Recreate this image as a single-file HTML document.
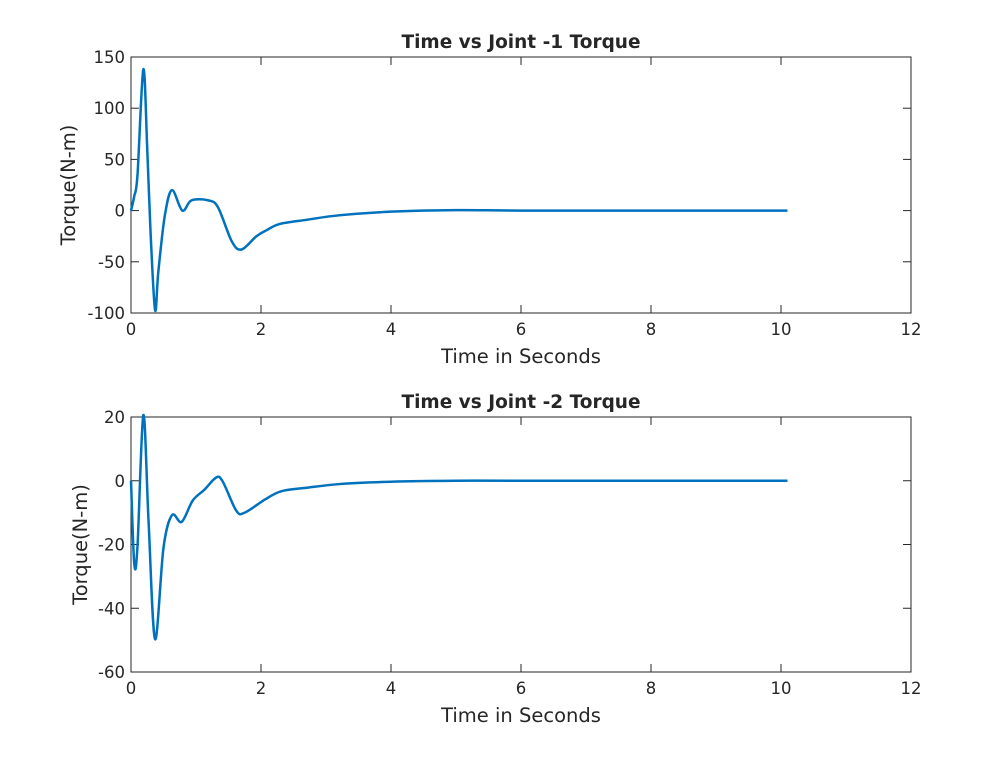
<!DOCTYPE html>
<html><head><meta charset="utf-8"><style>
html,body{margin:0;padding:0;background:#fff;}
svg text{font-family:"DejaVu Sans","Liberation Sans",sans-serif;fill:#262626;}
</style></head><body>
<svg id="chart" width="1008" height="756" xmlns="http://www.w3.org/2000/svg"></svg>
<script>
const xTicks=[0,2,4,6,8,10,12];
const t1=[0,0.05,0.1,0.19,0.25,0.3,0.37,0.42,0.52,0.63,0.79,0.93,1.19,1.34,1.55,1.7,1.93,2.09,2.29,2.7,3.2,4,5,6,8,10.1];
const v1=[0,14,35,138,60,-20,-97,-60,-5,20,0,10,10,3,-30,-38,-25,-19,-13,-9,-4.6,-1,0.5,0,0,0];
const yTicks1=[-100,-50,0,50,100,150];
const t2=[0,0.05,0.1,0.19,0.27,0.37,0.5,0.63,0.78,0.95,1.13,1.31,1.41,1.62,1.75,2.06,2.31,2.7,3.23,4,5,6,8,10.1];
const v2=[0,-26,-20.5,20.6,-12.7,-49.7,-21,-10.8,-12.9,-6.2,-2.8,1,-0.2,-9.4,-10,-5.9,-3.3,-2.2,-1,-0.3,0,0,0,0];
const yTicks2=[-60,-40,-20,0,20];
const NS="http://www.w3.org/2000/svg";
const svg=document.getElementById('chart');
function mk(tag,attrs,parent){const e=document.createElementNS(NS,tag);for(const k in attrs)e.setAttribute(k,attrs[k]);(parent||svg).appendChild(e);return e;}
function panel(name,top,bottom,ymin,ymax,yTicks,ts,vs,title){
  const L=131,R=911;
  const g=mk('g',{});
  
  
  const xs=v=>L+(v-0)/(12-0)*(R-L);
  const ys=v=>bottom-(v-ymin)/(ymax-ymin)*(bottom-top);
  const box=mk('rect',{x:L,y:top,width:R-L,height:bottom-top,fill:'#fff',stroke:'#262626','stroke-width':1},g);
  
  
  xTicks.forEach(v=>{
    const x=xs(v);
    mk('line',{x1:x,x2:x,y1:bottom,y2:bottom-8,stroke:'#262626'},g);
    mk('line',{x1:x,x2:x,y1:top,y2:top+8,stroke:'#262626'},g);
    const t=mk('text',{x:x,y:bottom+22,'text-anchor':'middle','font-size':16.5},g);
    t.textContent=v;
    
    
  });
  yTicks.forEach(v=>{
    const y=ys(v);
    mk('line',{x1:L,x2:L+8,y1:y,y2:y,stroke:'#262626'},g);
    mk('line',{x1:R,x2:R-8,y1:y,y2:y,stroke:'#262626'},g);
    const t=mk('text',{x:L-6,y:y+6,'text-anchor':'end','font-size':16.5},g);
    t.textContent=v;
    
    
  });
  const pts=ts.map((t,i)=>[xs(t),ys(vs[i])]);
  let d='M'+pts[0][0]+','+pts[0][1];
  for(let i=0;i<pts.length-1;i++){
    const p0=pts[Math.max(0,i-1)],p1=pts[i],p2=pts[i+1],p3=pts[Math.min(pts.length-1,i+2)];
    const c1=[p1[0]+(p2[0]-p0[0])/6,p1[1]+(p2[1]-p0[1])/6];
    const c2=[p2[0]-(p3[0]-p1[0])/6,p2[1]-(p3[1]-p1[1])/6];
    d+=` C${c1[0]},${c1[1]} ${c2[0]},${c2[1]} ${p2[0]},${p2[1]}`;
  }
  const line=mk('path',{d:d,fill:'none',stroke:'#0072bd','stroke-width':2.5,'stroke-linejoin':'round'},g);
  
  
  const tt=mk('text',{x:(L+R)/2,y:top-9,'text-anchor':'middle','font-size':18.5,'font-weight':'bold'},g);
  tt.textContent=title;
  
  
  const xl=mk('text',{x:(L+R)/2,y:bottom+50,'text-anchor':'middle','font-size':19.5},g);
  xl.textContent='Time in Seconds';
  
  
  const cy=(top+bottom)/2;
  const yl=mk('text',{x:0,y:0,'text-anchor':'middle','font-size':19.5,transform:`translate(${name==='panel-joint-1'?75:87},${cy}) rotate(-90)`},g);
  yl.textContent='Torque(N-m)';
  
  
}
panel('panel-joint-1',57,313,-100,150,yTicks1,t1,v1,'Time vs Joint -1 Torque');
panel('panel-joint-2',417,672,-60,20,yTicks2,t2,v2,'Time vs Joint -2 Torque');
</script>
</body></html>
